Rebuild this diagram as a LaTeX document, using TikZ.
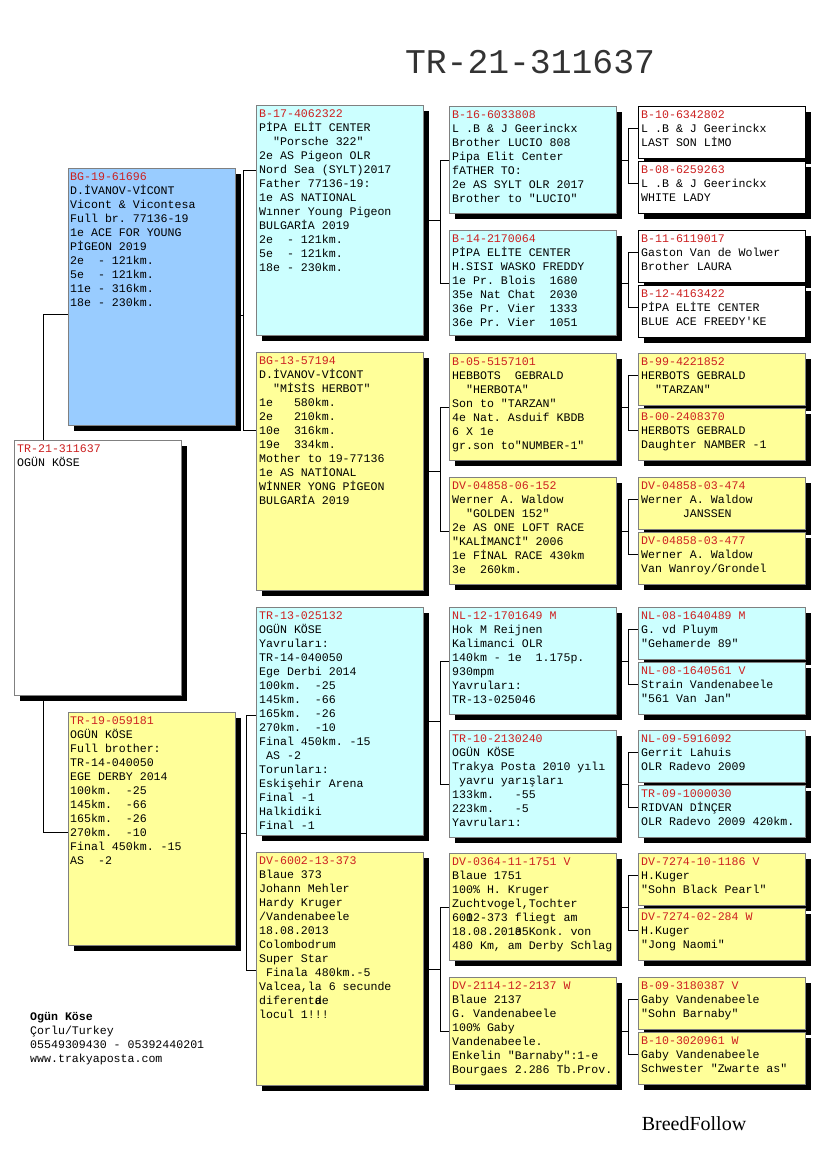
\documentclass[tikz,border=0pt]{standalone}
\usepackage{fontspec}
\setmainfont{Liberation Serif}
\setmonofont{Liberation Mono}
\usetikzlibrary{calc,shadows,backgrounds}
\definecolor{PedRed}{HTML}{CC2020}
\definecolor{PedBlue}{HTML}{99CCFF}
\definecolor{PedCyan}{HTML}{CCFFFF}
\definecolor{PedYellow}{HTML}{FFFF99}
\definecolor{PedLine}{HTML}{808080}
\newcommand\pedfont{\ttfamily\fontsize{11.6pt}{14pt}\selectfont\frenchspacing\spaceskip=6.96pt\relax}

\begin{document}
\begin{tikzpicture}[x=1pt,y=-1pt,
  pbox/.style={draw=PedLine, line width=0.8pt, anchor=north west, minimum width=167pt, inner sep=0pt,
    drop shadow={shadow xshift=6pt, shadow yshift=-6pt, fill=black, opacity=1}},
  ptext/.style={anchor=north west, align=flush left, inner sep=0pt, text width=164pt, font=\pedfont},
  link/.style={draw=black, line width=0.8pt}]
  \useasboundingbox (0,0) rectangle (825,1172);

  \node[font=\ttfamily\fontsize{34.7pt}{40pt}\selectfont, text=black!80] (title) at (530,62) {TR-21-311637};

  % bird and parents
  \node[pbox, fill=white, minimum height=255pt] (bird) at (14,440) {};
  \node[ptext] (bird-txt) at ($(bird.north west)+(3,5)$) {\textcolor{PedRed}{TR-21-311637}\\OGÜN KÖSE};

  \node[pbox, fill=PedBlue, minimum height=257pt] (sire) at (68,168) {};
  \node[ptext] (sire-txt) at ($(sire.north west)+(2,5)$) {\textcolor{PedRed}{BG-19-61696}\\D.İVANOV-VİCONT\\Vicont \& Vicontesa\\Full br. 77136-19\\1e ACE FOR YOUNG\\PİGEON 2019\\2e~~- 121km.\\5e~~- 121km.\\11e - 316km.\\18e - 230km.};

  \node[pbox, fill=PedYellow, minimum height=233pt] (dam) at (68,712) {};
  \node[ptext] (dam-txt) at ($(dam.north west)+(2,5)$) {\textcolor{PedRed}{TR-19-059181}\\OGÜN KÖSE\\Full brother:\\TR-14-040050\\EGE DERBY 2014\\100km.~~-25\\145km.~~-66\\165km.~~-26\\270km.~~-10\\Final 450km. -15\\AS~~-2};

  % grandparents
  \node[pbox, fill=PedCyan, minimum height=230pt] (gp1) at (256,105) {};
  \node[ptext] (gp1-txt) at ($(gp1.north west)+(3,5)$) {\textcolor{PedRed}{B-17-4062322}\\PİPA ELİT CENTER\\~~"Porsche 322"\\2e AS Pigeon OLR\\Nord Sea (SYLT)2017\\Father 77136-19:\\1e AS NATIONAL\\Wınner Young Pigeon\\BULGARİA 2019\\2e~~- 121km.\\5e~~- 121km.\\18e - 230km.};

  \node[pbox, fill=PedYellow, minimum height=238pt] (gp2) at (256,352) {};
  \node[ptext] (gp2-txt) at ($(gp2.north west)+(3,5)$) {\textcolor{PedRed}{BG-13-57194}\\D.İVANOV-VİCONT\\~~"MİSİS HERBOT"\\1e~~~580km.\\2e~~~210km.\\10e~~316km.\\19e~~334km.\\Mother to 19-77136\\1e AS NATİONAL\\WİNNER YONG PİGEON\\BULGARİA 2019};

  \node[pbox, fill=PedCyan, minimum height=228pt] (gp3) at (256,607) {};
  \node[ptext] (gp3-txt) at ($(gp3.north west)+(3,5)$) {\textcolor{PedRed}{TR-13-025132}\\OGÜN KÖSE\\Yavruları:\\TR-14-040050\\Ege Derbi 2014\\100km.~~-25\\145km.~~-66\\165km.~~-26\\270km.~~-10\\Final 450km. -15\\~AS -2\\Torunları:\\Eskişehir Arena\\Final -1\\Halkidiki\\Final -1};

  \node[pbox, fill=PedYellow, minimum height=233pt] (gp4) at (256,852) {};
  \node[ptext] (gp4-txt) at ($(gp4.north west)+(3,5)$) {\textcolor{PedRed}{DV-6002-13-373}\\Blaue 373\\Johann Mehler\\Hardy Kruger\\/Vandenabeele\\18.08.2013\\Colombodrum\\Super Star\\~Finala 480km.-5\\Valcea,la 6 secunde\\diferent\rlap{a}de\\locul 1!!!};

  % great-grandparents
  \node[pbox, fill=PedCyan, minimum height=107pt] (ggp1) at (449,106) {};
  \node[ptext] (ggp1-txt) at ($(ggp1.north west)+(3,5)$) {\textcolor{PedRed}{B-16-6033808}\\L .B \& J Geerinckx\\Brother LUCIO 808\\Pipa Elit Center\\fATHER TO:\\2e AS SYLT OLR 2017\\Brother to "LUCIO"};

  \node[pbox, fill=PedCyan, minimum height=105pt] (ggp2) at (449,230) {};
  \node[ptext] (ggp2-txt) at ($(ggp2.north west)+(3,5)$) {\textcolor{PedRed}{B-14-2170064}\\PİPA ELİTE CENTER\\H.SISI WASKO FREDDY\\1e Pr. Blois~~1680\\35e Nat Chat~~2030\\36e Pr. Vier~~1333\\36e Pr. Vier~~1051};

  \node[pbox, fill=PedYellow, minimum height=107pt] (ggp3) at (449,353) {};
  \node[ptext] (ggp3-txt) at ($(ggp3.north west)+(3,5)$) {\textcolor{PedRed}{B-05-5157101}\\HEBBOTS~~GEBRALD\\~~"HERBOTA"\\Son to "TARZAN"\\4e Nat. Asduif KBDB\\6 X 1e\\gr.son to"NUMBER-1"};

  \node[pbox, fill=PedYellow, minimum height=107pt] (ggp4) at (449,477) {};
  \node[ptext] (ggp4-txt) at ($(ggp4.north west)+(3,5)$) {\textcolor{PedRed}{DV-04858-06-152}\\Werner A. Waldow\\~~"GOLDEN 152"\\2e AS ONE LOFT RACE\\"KALİMANCİ" 2006\\1e FİNAL RACE 430km\\3e~~260km.};

  \node[pbox, fill=PedCyan, minimum height=107pt] (ggp5) at (449,607) {};
  \node[ptext] (ggp5-txt) at ($(ggp5.north west)+(3,5)$) {\textcolor{PedRed}{NL-12-1701649 M}\\Hok M Reijnen\\Kalimanci OLR\\140km - 1e~~1.175p.\\930mpm\\Yavruları:\\TR-13-025046};

  \node[pbox, fill=PedCyan, minimum height=107pt] (ggp6) at (449,730) {};
  \node[ptext] (ggp6-txt) at ($(ggp6.north west)+(3,5)$) {\textcolor{PedRed}{TR-10-2130240}\\OGÜN KÖSE\\Trakya Posta 2010 yılı\\~yavru yarışları\\133km.~~~-55\\223km.~~~-5\\Yavruları:};

  \node[pbox, fill=PedYellow, minimum height=107pt] (ggp7) at (449,853) {};
  \node[ptext] (ggp7-txt) at ($(ggp7.north west)+(3,5)$) {\textcolor{PedRed}{DV-0364-11-1751 V}\\Blaue 1751\\100\% H. Kruger\\Zuchtvogel,Tochter\\60\rlap{1}02-373 fliegt am\\18.08.201\rlap{3}e5Konk. von\\480 Km, am Derby Schlag};

  \node[pbox, fill=PedYellow, minimum height=107pt] (ggp8) at (449,977) {};
  \node[ptext] (ggp8-txt) at ($(ggp8.north west)+(3,5)$) {\textcolor{PedRed}{DV-2114-12-2137 W}\\Blaue 2137\\G. Vandenabeele\\100\% Gaby\\Vandenabeele.\\Enkelin "Barnaby":1-e\\Bourgaes 2.286 Tb.Prov.};

  % great-great-grandparents
  \foreach \i/\y/\col/\bd/\ringno/\lineA/\lineB in {
      1/106/white/black/B-10-6342802/{L .B \& J Geerinckx}/{LAST SON LİMO},
      2/161/white/black/B-08-6259263/{L .B \& J Geerinckx}/{WHITE LADY},
      3/230/white/black/B-11-6119017/{Gaston Van de Wolwer}/{Brother LAURA},
      4/285/white/black/B-12-4163422/{PİPA ELİTE CENTER}/{BLUE ACE FREEDY'KE},
      5/353/PedYellow/PedLine/B-99-4221852/{HERBOTS GEBRALD}/{~~"TARZAN"},
      6/408/PedYellow/PedLine/B-00-2408370/{HERBOTS GEBRALD}/{Daughter NAMBER -1},
      7/477/PedYellow/PedLine/DV-04858-03-474/{Werner A. Waldow}/{~~~~~~JANSSEN},
      8/532/PedYellow/PedLine/DV-04858-03-477/{Werner A. Waldow}/{Van Wanroy/Grondel},
      9/607/PedCyan/PedLine/NL-08-1640489 M/{G. vd Pluym}/{"Gehamerde 89"},
      10/662/PedCyan/PedLine/NL-08-1640561 V/{Strain Vandenabeele}/{"561 Van Jan"},
      11/730/PedCyan/PedLine/NL-09-5916092/{Gerrit Lahuis}/{OLR Radevo 2009},
      12/785/PedCyan/PedLine/TR-09-1000030/{RIDVAN DİNÇER}/{OLR Radevo 2009 420km.},
      13/853/PedYellow/PedLine/DV-7274-10-1186 V/{H.Kuger}/{"Sohn Black Pearl"},
      14/908/PedYellow/PedLine/DV-7274-02-284 W/{H.Kuger}/{"Jong Naomi"},
      15/977/PedYellow/PedLine/B-09-3180387 V/{Gaby Vandenabeele}/{"Sohn Barnaby"},
      16/1032/PedYellow/PedLine/B-10-3020961 W/{Gaby Vandenabeele}/{Schwester "Zwarte as"}}{
    \node[pbox, fill=\col, draw=\bd, minimum height=52pt] (gggp\i) at (638,\y) {};
    \node[ptext] (gggp\i-txt) at ($(gggp\i.north west)+(3,5)$) {\textcolor{PedRed}{\ringno}\\\lineA\\\lineB};
  }

  % connectors
  \begin{scope}[on background layer]
    \fill[white] (0,0) rectangle (825,1172);
    \draw[link] ($(bird.north west)+(29,0)$) |- ($(sire.north west)+(0,146)$);
    \draw[link] ($(bird.south west)+(29,0)$) |- ($(dam.north west)+(0,120)$);
    \draw[link] ($(sire.north east)+(0,147)$) -- ++(8,0) coordinate (sj);
    \draw[link] ($(gp1.north west)+(0,65)$) -| (sj) |- ($(gp2.north west)+(0,78)$);
    \draw[link] ($(dam.north east)+(0,121)$) -- ++(11,0) coordinate (dj);
    \draw[link] ($(gp3.north west)+(0,108)$) -| (dj) |- ($(gp4.north west)+(0,118)$);
    \foreach \i/\a/\b in {1/1/2, 2/3/4, 3/5/6, 4/7/8}{
      \draw[link] (gp\i.east) -- ++(17,0) coordinate (j\i);
      \draw[link] (ggp\a.west) -| (j\i) |- (ggp\b.west);
    }
    \foreach \i/\a/\b in {1/1/2, 2/3/4, 3/5/6, 4/7/8, 5/9/10, 6/11/12, 7/13/14, 8/15/16}{
      \draw[link] (ggp\i.east) -- ++(12,0) coordinate (k\i);
      \draw[link] ($(gggp\a.north west)+(0,22)$) -| (k\i) |- ($(gggp\b.north west)+(0,22)$);
    }
  \end{scope}

  \node[ptext, text width=200pt] (contact) at (30,1012) {\textbf{Ogün Köse}\\Çorlu/Turkey\\05549309430 - 05392440201\\www.trakyaposta.com};
  \node[font=\rmfamily\fontsize{20pt}{24pt}\selectfont] (brand) at (694,1124) {BreedFollow};
\end{tikzpicture}
\end{document}
